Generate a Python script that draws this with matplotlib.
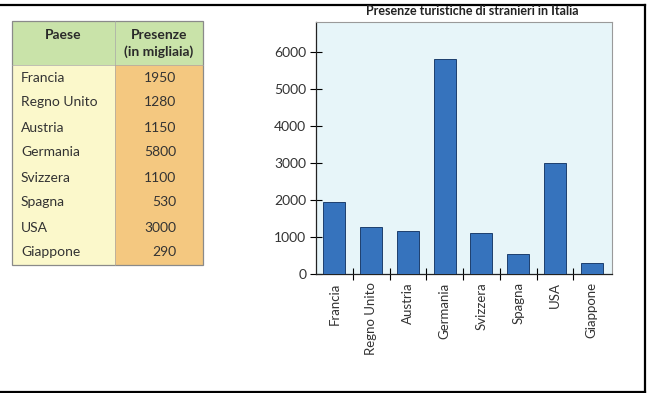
import numpy as np
import matplotlib.pyplot as plt
from matplotlib.patches import Rectangle
from matplotlib.lines import Line2D

paesi = ['Francia', 'Regno Unito', 'Austria', 'Germania', 'Svizzera', 'Spagna', 'USA', 'Giappone']
presenze = [1950, 1280, 1150, 5800, 1100, 530, 3000, 290]
y_ticks = [0, 1000, 2000, 3000, 4000, 5000, 6000]

W, H = 648, 393
fig = plt.figure(figsize=(W / 100, H / 100), dpi=100)
fig.patch.set_facecolor('white')

# pixel-space layer for the table and the page frame
bg = fig.add_axes([0, 0, 1, 1])
bg.set_xlim(0, W)
bg.set_ylim(H, 0)
bg.axis('off')

for x0, y0, x1, y1 in [(0, 4.5, 645, 4.5), (645, 4.5, 645, 392), (0, 392, 645, 392)]:
    bg.add_line(Line2D([x0, x1], [y0, y1], color='black', lw=1.6))

# table
tl, tr, tc = 12, 203, 115
t_top, h_bot, row_h = 21, 65, 25
t_bot = h_bot + row_h * len(paesi)
bg.add_patch(Rectangle((tl, t_top), tr - tl, h_bot - t_top, facecolor='#c9e3a9', edgecolor='none'))
bg.add_patch(Rectangle((tl, h_bot), tc - tl, t_bot - h_bot, facecolor='#fbf8cb', edgecolor='none'))
bg.add_patch(Rectangle((tc, h_bot), tr - tc, t_bot - h_bot, facecolor='#f4c880', edgecolor='none'))
bg.add_patch(Rectangle((tl, t_top), tr - tl, t_bot - t_top, facecolor='none', edgecolor='#8a8a8a', lw=0.9))
bg.add_line(Line2D([tc, tc], [t_top, t_bot], color='#a8a8a8', lw=0.5))
bg.add_line(Line2D([tl, tr], [h_bot, h_bot], color='#a8a8a8', lw=0.5))

hdr = dict(family='Lato', weight='bold', fontsize=10, color='#2a2a2a', ha='center', va='center')
bg.text((tl + tc) / 2, 35, 'Paese', **hdr)
bg.text((tc + tr) / 2, 35, 'Presenze', **hdr)
bg.text((tc + tr) / 2, 52, '(in migliaia)', **hdr)

body = dict(family='Lato', fontsize=10, color='#333333', va='center')
for i, (p, v) in enumerate(zip(paesi, presenze)):
    yc = h_bot + row_h * (i + 0.5)
    bg.text(21, yc, p, ha='left', **body)
    bg.text(176, yc, str(v), ha='right', **body)

# bar chart
ax = fig.add_axes([316 / W, 1 - 274 / H, (612 - 316) / W, (274 - 22) / H])
ax.set_facecolor('#e7f5f9')
x = np.arange(len(paesi))
ax.bar(x, presenze, width=0.6, color='#3673bd', edgecolor='#1d3f6e', linewidth=0.7, zorder=3)

ax.set_xlim(-0.5, len(paesi) - 0.45)
ax.set_ylim(0, 6800)
ax.set_yticks(y_ticks)
ax.set_yticklabels([str(t) for t in y_ticks], family='Lato', fontsize=10, color='#333333')
ax.tick_params(axis='y', direction='inout', length=8, width=0.8, pad=3)

ax.set_xticks(x[:-1] + 0.5)
ax.set_xticklabels([])
ax.set_xticks(x, minor=True)
ax.set_xticklabels(paesi, minor=True, rotation=90, family='Lato', fontsize=9.5, color='#333333')
ax.tick_params(axis='x', which='major', direction='inout', length=8, width=0.8)
ax.tick_params(axis='x', which='minor', length=0, pad=6)

for s in ['top', 'right']:
    ax.spines[s].set_color('#9a9a9a')
    ax.spines[s].set_linewidth(0.8)
for s in ['left', 'bottom']:
    ax.spines[s].set_color('#222222')
    ax.spines[s].set_linewidth(0.9)

fig.text(472 / W, 1 - 11 / H, 'Presenze turistiche di stranieri in Italia', family='Lato',
         weight='bold', fontsize=9, color='#222222', ha='center', va='center')

fig.savefig('out.png', dpi=100)
